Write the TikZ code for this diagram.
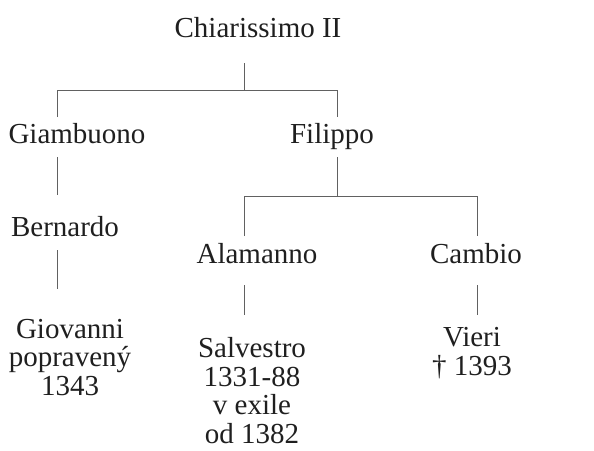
\documentclass[tikz,border=0pt]{standalone}
\usepackage{fontspec}
\setmainfont{Liberation Serif}
\begin{document}
\begin{tikzpicture}[x=1pt,y=-1pt,
  person/.style={font=\fontsize{29}{28.5}\selectfont, text=black!88, inner sep=0pt, anchor=base, align=center},
  link/.style={draw=black!62, line width=1pt}]
\useasboundingbox (0,0) rectangle (594,450);
\node[person] (chi) at (258,37) {Chiarissimo II};
\node[person] (gia) at (77,143) {Giambuono};
\node[person] (fil) at (332,143) {Filippo};
\node[person] (ber) at (65,236) {Bernardo};
\node[person] (ala) at (257,263) {Alamanno};
\node[person] (cam) at (476,263) {Cambio};
\node[person] (gio) at (70,395) {Giovanni\\popravený\\1343};
\node[person] (sal) at (252,443) {Salvestro\\1331-88\\v exile\\od 1382};
\node[person] (vie) at (472,375) {Vieri\\† 1393};
% junctions
\coordinate (c0) at (244,63);
\coordinate (c1) at (244,90);
\coordinate (b1l) at (57,90);
\coordinate (b1r) at (337,90);
\coordinate (giaT) at (57,117);
\coordinate (filT) at (337,117);
\coordinate (giaB) at (57,157);
\coordinate (berT) at (57,195);
\coordinate (berB) at (57,250);
\coordinate (gioT) at (57,289);
\coordinate (filB) at (337,157);
\coordinate (f1) at (337,196);
\coordinate (b2l) at (244,196);
\coordinate (b2r) at (477,196);
\coordinate (alaT) at (244,236);
\coordinate (camT) at (477,236);
\coordinate (alaB) at (244,285);
\coordinate (salT) at (244,315);
\coordinate (camB) at (477,285);
\coordinate (vieT) at (477,315);
\draw[link] (c0) -- (c1);
\draw[link] (giaT) -- (b1l) -- (b1r) -- (filT);
\draw[link] (giaB) -- (berT);
\draw[link] (berB) -- (gioT);
\draw[link] (filB) -- (f1);
\draw[link] (alaT) -- (b2l) -- (b2r) -- (camT);
\draw[link] (alaB) -- (salT);
\draw[link] (camB) -- (vieT);
\end{tikzpicture}
\end{document}
